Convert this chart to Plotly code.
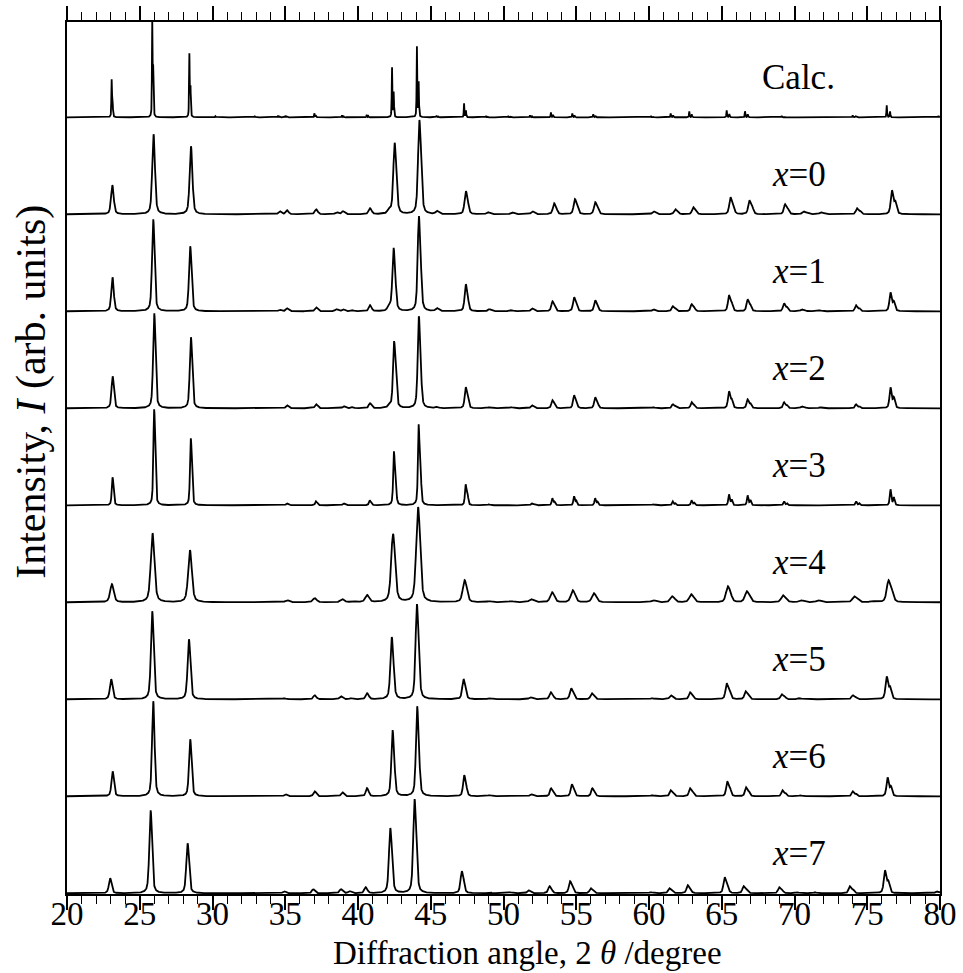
import numpy as np
import plotly.graph_objects as go

# ---------------- data ----------------
labels = ["Calc.", "x=0", "x=1", "x=2", "x=3", "x=4", "x=5", "x=6", "x=7"]

calc_pos = [23.07, 25.86, 28.41, 30.2, 32.9, 34.5, 35.0, 37.0, 38.9, 40.6, 42.34, 44.05, 45.4, 47.29,
            48.8, 50.33, 51.82, 53.26, 54.73, 56.17, 60.14, 61.49, 62.77, 65.34, 66.6, 69.12, 74.0, 76.34, 79.9]
calc_int = [38, 98, 64, 1, 1, 1.5, 1.5, 4, 2, 2.5, 50, 71, 1.5, 14,
            1, 1, 2, 5, 4, 3, 1, 4, 6, 7, 6, 1.5, 2, 12, 1.5]

x0_pos = [23.1, 25.93, 28.5, 34.6, 35.1, 37.1, 38.5, 38.95, 40.8, 42.1, 42.5, 44.2, 45.4, 47.4, 48.9,
          50.56, 51.96, 53.47, 54.9, 56.3, 60.3, 61.8, 63.04, 65.6, 66.9, 69.35, 70.6, 71.8, 74.3, 76.7]
x0_int = [29, 80, 68, 3, 4, 5, 2, 3, 6, 4, 71, 94, 3, 23, 2,
          2, 3, 11, 15, 12, 3, 5, 7, 17, 14, 10, 3, 2, 6, 24]

x1_pos = [23.11, 25.91, 28.45, 34.6, 35.1, 37.1, 38.5, 38.95, 39.6, 40.8, 42.1, 42.43, 44.17, 45.4, 47.4,
          49.0, 50.5, 51.94, 53.36, 54.85, 56.3, 60.3, 61.63, 62.93, 65.5, 66.78, 69.28, 70.5, 71.75, 74.23, 76.6]
x1_int = [34, 92, 65, 1.5, 3, 4, 2, 2, 1, 6, 5, 63, 95, 3, 27,
          2, 1, 3, 10, 14, 11, 2, 5, 7, 16, 12, 8, 2, 1, 6, 19]

x2_pos = [23.12, 25.98, 28.5, 35.1, 37.1, 39.0, 39.6, 40.8, 42.1, 42.47, 44.17, 45.4, 47.4,
          49.0, 50.5, 51.94, 53.36, 54.85, 56.3, 60.3, 61.63, 62.93, 65.5, 66.78, 69.28, 70.5, 71.75, 74.23, 76.6]
x2_int = [32, 95, 71, 3, 4, 2, 1, 5, 2, 67, 92, 1, 21,
          1, 1, 3, 8, 13, 11, 1, 4, 6, 17, 9, 6, 2, 1, 4, 21]

x3_pos = [23.12, 25.98, 28.5, 35.1, 37.1, 39.0, 40.8, 42.47, 44.17, 47.4,
          49.0, 51.94, 53.36, 54.85, 56.3, 60.3, 61.63, 62.93, 65.5, 66.78, 69.28, 74.23, 76.6]
x3_int = [28, 96, 67, 2, 4, 2, 5, 54, 81, 21,
          1, 2, 7, 9, 7, 1, 4, 5, 11, 10, 4, 4, 16]

x4_pos = [23.07, 25.86, 28.43, 35.1, 37.0, 38.9, 39.6, 40.6, 42.38, 44.1, 47.3, 49.0, 50.5,
          51.87, 53.31, 54.73, 56.18, 60.26, 61.56, 62.87, 65.4, 66.7, 69.19, 70.4, 71.6, 74.09, 75.3, 76.45]
x4_int = [18, 69, 52, 2, 4, 3, 1, 7, 68, 95, 22, 1, 1,
          3, 10, 12, 9, 2, 6, 8, 16, 11, 7, 2, 2, 6, 1, 22]

x5_pos = [23.02, 25.84, 28.36, 34.9, 37.0, 38.8, 39.5, 40.6, 42.3, 44.03, 47.24, 49.0,
          51.82, 53.24, 54.64, 56.06, 60.19, 61.49, 62.82, 65.34, 66.64, 69.12, 70.3, 74.0, 76.34]
x5_int = [20, 88, 60, 1, 4, 3, 1, 6, 62, 95, 20, 1,
          2, 7, 11, 6, 1, 4, 7, 16, 8, 5, 1, 4, 23]

x6_pos = [23.12, 25.91, 28.45, 35.0, 37.0, 38.9, 40.6, 42.36, 44.05, 47.29, 49.0,
          51.87, 53.26, 54.69, 56.1, 60.2, 61.49, 62.82, 65.38, 66.67, 69.17, 70.4, 74.0, 76.4]
x6_int = [25, 95, 57, 2, 5, 4, 8, 66, 90, 21, 1,
          2, 8, 12, 8, 1, 6, 8, 15, 9, 6, 1, 5, 19]

x7_pos = [22.95, 25.73, 28.27, 34.9, 36.9, 38.8, 39.4, 40.5, 42.2, 43.87, 47.12, 49.0, 50.4,
          51.7, 53.15, 54.57, 55.99, 60.1, 61.4, 62.66, 65.2, 66.5, 68.95, 70.2, 71.4, 73.8, 76.22, 79.77]
x7_int = [15, 83, 50, 2, 4, 4, 2, 6, 65, 94, 22, 1, 1,
          3, 7, 12, 5, 1, 5, 8, 16, 7, 6, 1, 1, 7, 23, 2]

peak_pos = [calc_pos, x0_pos, x1_pos, x2_pos, x3_pos, x4_pos, x5_pos, x6_pos, x7_pos]
peak_int = [calc_int, x0_int, x1_int, x2_int, x3_int, x4_int, x5_int, x6_int, x7_int]
fwhm = [0.05, 0.2, 0.18, 0.17, 0.12, 0.28, 0.2, 0.18, 0.2]   # peak widths, degrees

x_ticks = [20, 25, 30, 35, 40, 45, 50, 55, 60, 65, 70, 75, 80]
offset_step = 97

# ---------------- build profiles ----------------
two_theta = np.round(np.arange(20.0, 80.0001, 0.01), 3)
LAM_RATIO = 1.54443 / 1.54056   # Cu Ka2 / Ka1


def pv(x, c, w, eta=0.5):
    g = np.exp(-4 * np.log(2) * ((x - c) / w) ** 2)
    l = 1.0 / (1.0 + 4 * ((x - c) / w) ** 2)
    return eta * l + (1 - eta) * g


def profile(pos, inten, w):
    y = np.zeros_like(two_theta)
    for c, h in zip(pos, inten):
        th = np.radians(c / 2)
        c2 = 2 * np.degrees(np.arcsin(min(LAM_RATIO * np.sin(th), 1.0)))
        shape = pv(two_theta, c, w) + 0.5 * pv(two_theta, c2, w)
        y += h * shape / shape.max()
    return y


serif = "Liberation Serif"
fig = go.Figure()
n = len(labels)
for i in range(n):
    base = (n - 1 - i) * offset_step
    y = profile(peak_pos[i], peak_int[i], fwhm[i]) + base
    fig.add_trace(go.Scatter(x=two_theta, y=y, mode="lines",
                             line=dict(color="black", width=1.8),
                             showlegend=False, hoverinfo="skip"))
    txt = "Calc." if labels[i] == "Calc." else "<i>x</i>=" + labels[i].split("=")[1]
    fig.add_annotation(x=70.3, y=base + 40, text=txt, showarrow=False,
                       font=dict(family=serif, size=35, color="black"),
                       xanchor="center", yanchor="middle")

# top axis (ticks only)
fig.add_trace(go.Scatter(x=[20, 80], y=[None, None], xaxis="x2", showlegend=False, hoverinfo="skip"))

fig.update_layout(
    width=963, height=973,
    margin=dict(l=67, r=23, t=22, b=79, autoexpand=False),
    paper_bgcolor="white", plot_bgcolor="white",
    showlegend=False,
    xaxis=dict(range=[20, 80], tickmode="array", tickvals=x_ticks, automargin=False,
               ticks="outside", ticklen=14, tickwidth=1.5, tickcolor="black",
               minor=dict(dtick=1, ticks="outside", ticklen=8, tickwidth=1.2, tickcolor="black"),
               showline=True, linecolor="black", linewidth=1.5, mirror=False,
               showgrid=False, zeroline=False,
               tickfont=dict(family=serif, size=33, color="black"),
               ticklabelstandoff=-24),
    xaxis2=dict(range=[20, 80], overlaying="x", side="top", tickmode="array", tickvals=x_ticks,
                automargin=False,
                ticks="outside", ticklen=14, tickwidth=1.5, tickcolor="black",
                minor=dict(dtick=1, ticks="outside", ticklen=8, tickwidth=1.2, tickcolor="black"),
                showticklabels=False, showline=True, linecolor="black", linewidth=1.5,
                showgrid=False, zeroline=False),
    yaxis=dict(range=[-0.7, 871.3], showticklabels=False, ticks="", showgrid=False, zeroline=False,
               automargin=False,
               showline=True, linecolor="black", linewidth=1.5, mirror=True),
)

fig.add_annotation(xref="paper", yref="paper", x=0.527, y=-0.0675,
                   text="Diffraction angle, 2 <i>θ</i> /degree", showarrow=False,
                   font=dict(family=serif, size=33, color="black"),
                   xanchor="center", yanchor="middle")
fig.add_annotation(xref="paper", yref="paper", x=-0.040, y=0.576,
                   text="Intensity, <i>I</i> (arb. units)", showarrow=False, textangle=-90,
                   font=dict(family=serif, size=42, color="black"),
                   xanchor="center", yanchor="middle")

fig.write_html("out.html")
